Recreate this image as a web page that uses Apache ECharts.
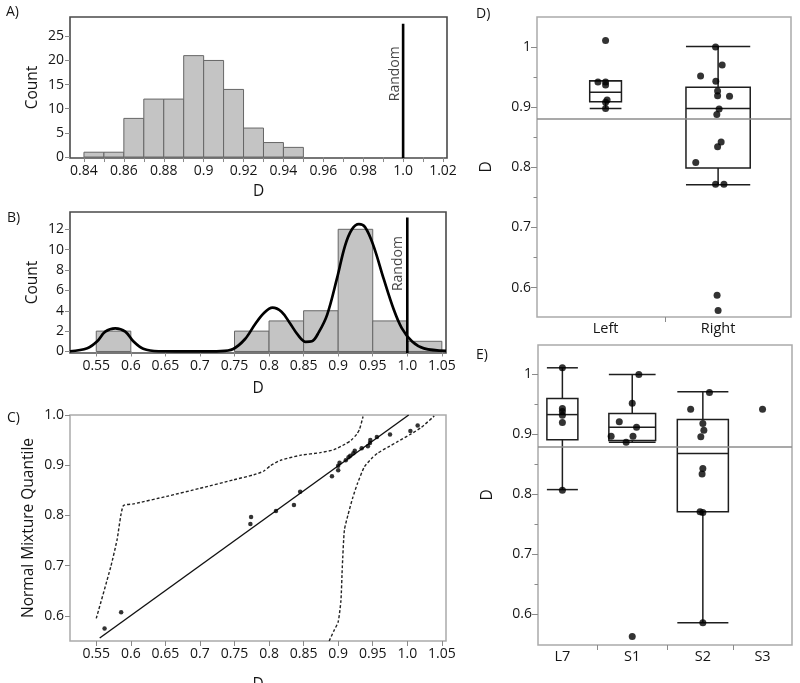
<!DOCTYPE html>
<html><head><meta charset="utf-8">
<script src="https://cdn.jsdelivr.net/npm/echarts@6/dist/echarts.min.js"></script>
<style>html,body{margin:0;padding:0;background:#fff}#c{width:800px;height:683px}</style>
</head><body><div id="c"></div>
<script>
// ---------- Panel A : histogram of D ----------
const aBinStart = [0.84, 0.85, 0.86, 0.87, 0.88, 0.89, 0.90, 0.91, 0.92, 0.93, 0.94];
const aBinWidth = 0.01;
const aCounts = [1, 1, 8, 12, 12, 21, 20, 14, 6, 3, 2];
const aXTicks = [0.84, 0.85, 0.86, 0.87, 0.88, 0.89, 0.90, 0.91, 0.92, 0.93, 0.94, 0.95, 0.96, 0.97, 0.98, 0.99, 1.00, 1.01, 1.02];
const aXLabels = [0.84, 0.86, 0.88, 0.90, 0.92, 0.94, 0.96, 0.98, 1.00, 1.02];
const aYLabels = [0, 5, 10, 15, 20, 25];
const aRandomTop = 27.6;
const randomD = 1.0;

// ---------- Panel B : histogram + normal mixture density ----------
const bBinStart = [0.55, 0.75, 0.80, 0.85, 0.90, 0.95, 1.00];
const bBinWidth = 0.05;
const bCounts = [2, 2, 3, 4, 12, 3, 1];
const bCurveX = [0.512, 0.537, 0.551, 0.563, 0.5775, 0.592, 0.604, 0.618, 0.64, 0.70, 0.73, 0.748, 0.765, 0.78, 0.793, 0.805, 0.818, 0.83, 0.842, 0.853, 0.862, 0.872, 0.884, 0.898, 0.910, 0.920, 0.930, 0.939, 0.951, 0.966, 0.980, 0.992, 1.007, 1.024, 1.056];
const bCurveY = [0.02, 0.32, 0.97, 1.95, 2.27, 1.95, 0.97, 0.26, 0.02, 0.0, 0.03, 0.25, 1.2, 2.7, 3.8, 4.3, 3.9, 2.8, 1.6, 0.95, 1.0, 1.9, 3.6, 7.1, 10.4, 12.0, 12.5, 12.2, 10.4, 7.1, 4.2, 2.3, 0.97, 0.3, 0.05];
const bXLabels = [0.55, 0.60, 0.65, 0.70, 0.75, 0.80, 0.85, 0.90, 0.95, 1.00, 1.05];
const bYLabels = [0, 2, 4, 6, 8, 10, 12];
const bRandomTop = 13.15;

// ---------- Panel C : normal mixture quantile plot ----------
const cPointX = [0.562, 0.586, 0.773, 0.774, 0.810, 0.836, 0.845, 0.891, 0.900, 0.900, 0.902, 0.911, 0.915, 0.9175, 0.922, 0.924, 0.934, 0.943, 0.946, 0.9465, 0.956, 0.975, 1.0045, 1.015];
const cPointY = [0.575, 0.607, 0.783, 0.797, 0.809, 0.821, 0.847, 0.878, 0.890, 0.899, 0.905, 0.910, 0.916, 0.919, 0.924, 0.929, 0.934, 0.938, 0.944, 0.950, 0.956, 0.961, 0.968, 0.979];
const cFitX = [0.555, 1.002];
const cFitY = [0.556, 1.000];
const cUpperX = [0.550, 0.571, 0.580, 0.589, 0.604, 0.652, 0.700, 0.749, 0.778, 0.792, 0.802, 0.817, 0.846, 0.874, 0.894, 0.910, 0.919, 0.927, 0.931, 0.936];
const cUpperY = [0.595, 0.698, 0.751, 0.819, 0.823, 0.838, 0.854, 0.871, 0.881, 0.888, 0.899, 0.910, 0.920, 0.925, 0.931, 0.942, 0.950, 0.962, 0.972, 0.997];
const cLowerX = [0.887, 0.894, 0.900, 0.904, 0.906, 0.909, 0.914, 0.921, 0.928, 0.938, 0.948, 0.957, 0.972, 0.986, 1.005, 1.020, 1.039];
const cLowerY = [0.550, 0.571, 0.588, 0.631, 0.698, 0.771, 0.800, 0.835, 0.864, 0.897, 0.913, 0.924, 0.936, 0.947, 0.962, 0.975, 0.998];
const cYLabels = [0.6, 0.7, 0.8, 0.9, 1.0];

// ---------- Panel D : Left vs Right ----------
const dGroups = ['Left', 'Right'];
const dGroupPos = [0.270, 0.713];
const dGroupSeparators = [0.503];
const dBoxWidth = [0.125, 0.253];
const dLow = [0.898, 0.771];
const dQ1 = [0.909, 0.799];
const dMed = [0.925, 0.898];
const dQ3 = [0.944, 0.933];
const dHigh = [0.944, 1.001];
const dPointGroup = [0, 0, 0, 0, 0, 0, 0, 1, 1, 1, 1, 1, 1, 1, 1, 1, 1, 1, 1, 1, 1, 1, 1];
const dPointJitter = [0, -0.030, 0, 0, 0.006, 0, 0, -0.010, 0.016, -0.069, -0.009, -0.002, -0.002, 0.045, 0.004, -0.005, 0.012, -0.002, -0.088, -0.010, 0.023, -0.004, 0];
const dPointD = [1.011, 0.942, 0.942, 0.937, 0.912, 0.908, 0.898, 1.000, 0.970, 0.952, 0.943, 0.927, 0.919, 0.918, 0.897, 0.888, 0.842, 0.834, 0.808, 0.772, 0.772, 0.587, 0.562];

// ---------- Panel E : L7, S1, S2, S3 ----------
const eGroups = ['L7', 'S1', 'S2', 'S3'];
const eGroupPos = [0.096, 0.371, 0.649, 0.884];
const eGroupSeparators = [0.234, 0.509, 0.767];
const eBoxWidth = [0.122, 0.184, 0.201];
const eLow = [0.808, 0.887, 0.586];
const eQ1 = [0.891, 0.890, 0.771];
const eMed = [0.933, 0.912, 0.868];
const eQ3 = [0.960, 0.935, 0.925];
const eHigh = [1.011, 1.000, 0.971];
const ePointGroup = [0, 0, 0, 0, 0, 0, 1, 1, 1, 1, 1, 1, 1, 1, 2, 2, 2, 2, 2, 2, 2, 2, 2, 2, 3];
const ePointJitter = [0, 0, 0, 0, 0, 0, 0.026, 0, -0.051, 0.017, -0.083, 0.003, -0.024, 0, 0.026, -0.048, 0, 0.004, -0.008, 0, -0.003, -0.011, 0, 0, 0];
const ePointD = [1.011, 0.943, 0.938, 0.932, 0.920, 0.807, 1.000, 0.952, 0.921, 0.912, 0.897, 0.897, 0.887, 0.563, 0.970, 0.942, 0.918, 0.907, 0.896, 0.843, 0.834, 0.771, 0.770, 0.586, 0.942];

const deYLabels = [0.6, 0.7, 0.8, 0.9, 1.0];
const deYMinorTicks = [0.65, 0.75, 0.85, 0.95];
const refLineD = 0.88;

// ================= drawing =================
const FONT = "'Open Sans', 'Noto Sans', sans-serif";
const TXT = '#151515';
const TICK = '#8a8a8a';
const LBL = 14;

const fmtD = v => Math.abs(v - 1) < 1e-9 ? '1.0' : String(parseFloat(v.toFixed(2)));
const fmtDE = v => Math.abs(v - 1) < 1e-9 ? '1' : v.toFixed(1);
const zip = (xs, ys) => xs.map((x, i) => [x, ys[i]]);

function axis(gridIndex, min, max, labels, ticks, fmt, extra) {
  return Object.assign({
    type: 'value', gridIndex, min, max,
    splitLine: { show: false },
    axisLine: { show: false },
    axisTick: { show: true, inside: false, length: 5, lineStyle: { color: TICK, width: 1 }, customValues: ticks },
    axisLabel: { show: labels !== null, customValues: labels || [], formatter: fmt, fontSize: LBL, color: TXT, margin: 6, fontFamily: FONT },
    nameLocation: 'middle',
    nameTextStyle: { fontSize: 15.5, color: TXT, fontFamily: FONT }
  }, extra || {});
}

function histRender(params, api) {
  const p0 = api.coord([api.value(0), api.value(2)]);
  const p1 = api.coord([api.value(1), 0]);
  return { type: 'rect', shape: { x: p0[0], y: p0[1], width: p1[0] - p0[0], height: p1[1] - p0[1] },
    style: { fill: '#c4c4c4', stroke: '#666', lineWidth: 1 } };
}

function boxRender(params, api) {
  const pos = api.value(0), w = api.value(1);
  const lo = api.value(2), q1 = api.value(3), med = api.value(4), q3 = api.value(5), hi = api.value(6);
  const tl = api.coord([pos - w / 2, q3]);
  const br = api.coord([pos + w / 2, q1]);
  const m = api.coord([pos, med]);
  const top = api.coord([pos, hi]);
  const bot = api.coord([pos, lo]);
  const st = { stroke: '#1e1e1e', lineWidth: 1.5, fill: null };
  const line = (x1, y1, x2, y2) => ({ type: 'line', shape: { x1, y1, x2, y2 }, style: st });
  return { type: 'group', children: [
    { type: 'rect', shape: { x: tl[0], y: tl[1], width: br[0] - tl[0], height: br[1] - tl[1] }, style: st },
    line(tl[0], m[1], br[0], m[1]),
    line(m[0], tl[1], m[0], top[1]),
    line(tl[0], top[1], br[0], top[1]),
    line(m[0], br[1], m[0], bot[1]),
    line(tl[0], bot[1], br[0], bot[1])
  ] };
}

function groupFmt(pos, names) {
  return v => { for (let i = 0; i < pos.length; i++) if (Math.abs(v - pos[i]) < 1e-6) return names[i]; return ''; };
}

function randomLabelSeries(xi, yi, top, dist, down) {
  return { type: 'scatter', xAxisIndex: xi, yAxisIndex: yi, symbolSize: 0, silent: true, z: 5,
    data: [[randomD, top]],
    label: { show: true, formatter: 'Random', rotate: 90, position: 'left', distance: dist, align: 'right', verticalAlign: 'middle',
      offset: [-down, 0], fontSize: LBL, color: TXT, fontFamily: FONT } };
}

const darkFrame = { show: true, borderColor: '#4a4a4a', borderWidth: 1.6, backgroundColor: 'transparent', containLabel: false, outerBoundsMode: 'none' };
const greyFrame = { show: true, borderColor: '#ababab', borderWidth: 1.5, backgroundColor: 'transparent', containLabel: false, outerBoundsMode: 'none' };
const groupLabel = (pos, names) => ({ customValues: pos, formatter: groupFmt(pos, names), fontSize: 14.5, color: TXT, margin: 4, fontFamily: FONT });

const option = {
  animation: false,
  backgroundColor: '#fff',
  textStyle: { fontFamily: FONT, color: TXT },
  title: [
    { text: 'A)', left: 6, top: 5 }, { text: 'B)', left: 7, top: 211 }, { text: 'C)', left: 7, top: 411 },
    { text: 'D)', left: 476, top: 7 }, { text: 'E)', left: 476, top: 348 }
  ].map(t => Object.assign(t, { padding: 0, textStyle: { fontSize: 14, fontWeight: 'normal', color: TXT, fontFamily: FONT } })),
  grid: [
    Object.assign({ left: 70, top: 17, width: 377, height: 141 }, darkFrame),
    Object.assign({ left: 70, top: 212, width: 376, height: 141 }, darkFrame),
    Object.assign({ left: 70, top: 415, width: 376, height: 226 }, greyFrame),
    Object.assign({ left: 537, top: 17, width: 254, height: 300 }, greyFrame),
    Object.assign({ left: 538, top: 345, width: 254, height: 300 }, greyFrame)
  ],
  xAxis: [
    axis(0, 0.833, 1.022, aXLabels, aXTicks, fmtD, { name: 'D', nameGap: 26 }),
    axis(1, 0.512, 1.056, bXLabels, bXLabels, fmtD, { name: 'D', nameGap: 28 }),
    axis(2, 0.512, 1.056, bXLabels, bXLabels, fmtD, { name: 'D', nameGap: 36 }),
    axis(3, 0, 1, dGroupPos, dGroupSeparators, null, { axisLabel: groupLabel(dGroupPos, dGroups) }),
    axis(4, 0, 1, eGroupPos, eGroupSeparators, null, { axisLabel: groupLabel(eGroupPos, eGroups) })
  ],
  yAxis: [
    axis(0, -0.2, 29, aYLabels, aYLabels, v => String(v), { name: 'Count', nameGap: 29 }),
    axis(1, -0.15, 13.7, bYLabels, bYLabels, v => String(v), { name: 'Count', nameGap: 29 }),
    axis(2, 0.55, 1.0, cYLabels, cYLabels, fmtD, { name: 'Normal Mixture Quantile', nameGap: 33 }),
    axis(3, 0.551, 1.05, deYLabels, deYLabels, fmtDE, { name: 'D', nameGap: 42, position: 'left', axisTick: { length: 6, lineStyle: { color: TICK }, customValues: deYLabels } }),
    axis(4, 0.549, 1.049, deYLabels, deYLabels, fmtDE, { name: 'D', nameGap: 42, position: 'left', axisTick: { length: 6, lineStyle: { color: TICK }, customValues: deYLabels } }),
    axis(3, 0.551, 1.05, null, deYMinorTicks, null, { position: 'left', axisTick: { length: 3.5, lineStyle: { color: TICK }, customValues: deYMinorTicks }, axisLabel: { show: false } }),
    axis(4, 0.549, 1.049, null, deYMinorTicks, null, { position: 'left', axisTick: { length: 3.5, lineStyle: { color: TICK }, customValues: deYMinorTicks }, axisLabel: { show: false } })
  ],
  series: [
    // A
    { type: 'custom', xAxisIndex: 0, yAxisIndex: 0, renderItem: histRender, encode: { x: [0, 1], y: 2 },
      data: aBinStart.map((s, i) => [s, s + aBinWidth, aCounts[i]]) },
    { type: 'line', xAxisIndex: 0, yAxisIndex: 0, symbol: 'none', lineStyle: { color: '#000', width: 2.6 },
      data: [[randomD, -0.2], [randomD, aRandomTop]], z: 4 },
    randomLabelSeries(0, 0, aRandomTop, 8.5, 22.5),
    // B
    { type: 'custom', xAxisIndex: 1, yAxisIndex: 1, renderItem: histRender, encode: { x: [0, 1], y: 2 },
      data: bBinStart.map((s, i) => [s, s + bBinWidth, bCounts[i]]) },
    { type: 'line', xAxisIndex: 1, yAxisIndex: 1, symbol: 'none', smooth: 0.35, lineStyle: { color: '#000', width: 2.7 },
      data: zip(bCurveX, bCurveY), z: 4 },
    { type: 'line', xAxisIndex: 1, yAxisIndex: 1, symbol: 'none', lineStyle: { color: '#000', width: 2.6 },
      data: [[randomD, -0.15], [randomD, bRandomTop]], z: 4 },
    randomLabelSeries(1, 1, bRandomTop, 9.5, 18.5),
    // C
    { type: 'line', xAxisIndex: 2, yAxisIndex: 2, symbol: 'none', lineStyle: { color: '#111', width: 1.4 }, data: zip(cFitX, cFitY) },
    { type: 'line', xAxisIndex: 2, yAxisIndex: 2, symbol: 'none', smooth: 0.2, lineStyle: { color: '#222', width: 1.4, type: [3, 2] }, data: zip(cUpperX, cUpperY) },
    { type: 'line', xAxisIndex: 2, yAxisIndex: 2, symbol: 'none', smooth: 0.2, lineStyle: { color: '#222', width: 1.4, type: [3, 2] }, data: zip(cLowerX, cLowerY) },
    { type: 'scatter', xAxisIndex: 2, yAxisIndex: 2, symbolSize: 4.5, itemStyle: { color: '#000' }, data: zip(cPointX, cPointY), z: 5 },
    // D
    { type: 'custom', xAxisIndex: 3, yAxisIndex: 3, renderItem: boxRender,
      data: dGroupPos.map((p, i) => [p, dBoxWidth[i], dLow[i], dQ1[i], dMed[i], dQ3[i], dHigh[i]]),
      markLine: { silent: true, symbol: 'none', label: { show: false }, lineStyle: { color: '#8c8c8c', width: 1.5, type: 'solid' }, data: [{ yAxis: refLineD }] } },
    { type: 'scatter', xAxisIndex: 3, yAxisIndex: 3, symbolSize: 7, itemStyle: { color: '#000' }, z: 5,
      data: dPointD.map((v, i) => [dGroupPos[dPointGroup[i]] + dPointJitter[i], v]) },
    // E
    { type: 'custom', xAxisIndex: 4, yAxisIndex: 4, renderItem: boxRender,
      data: eBoxWidth.map((w, i) => [eGroupPos[i], w, eLow[i], eQ1[i], eMed[i], eQ3[i], eHigh[i]]),
      markLine: { silent: true, symbol: 'none', label: { show: false }, lineStyle: { color: '#8c8c8c', width: 1.5, type: 'solid' }, data: [{ yAxis: refLineD }] } },
    { type: 'scatter', xAxisIndex: 4, yAxisIndex: 4, symbolSize: 7, itemStyle: { color: '#000' }, z: 5,
      data: ePointD.map((v, i) => [eGroupPos[ePointGroup[i]] + ePointJitter[i], v]) }
  ]
};

const chart = echarts.init(document.getElementById('c'), null, { renderer: 'canvas' });
chart.setOption(option);
</script>
</body></html>
